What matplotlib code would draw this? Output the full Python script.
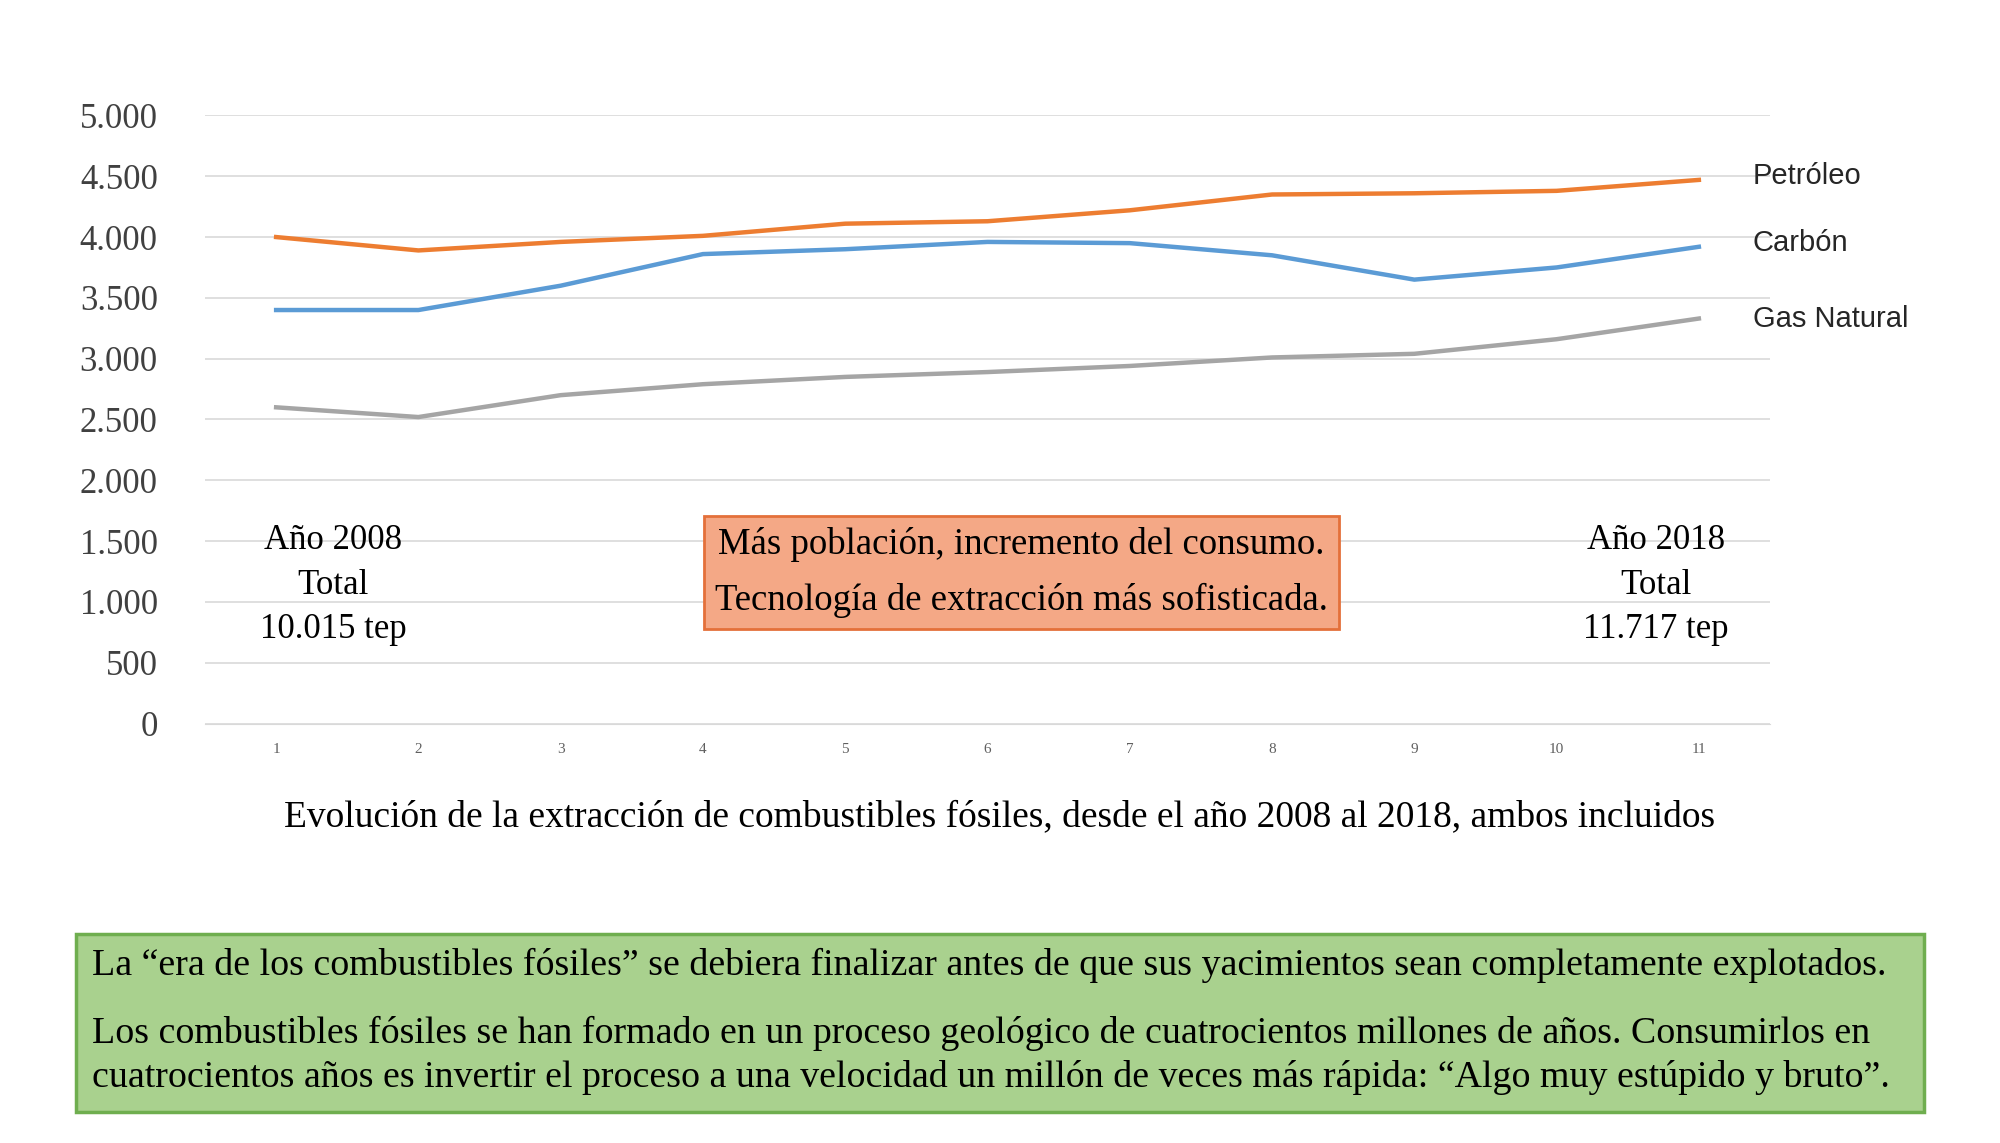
import matplotlib
matplotlib.use("Agg")
import matplotlib.pyplot as plt
from matplotlib.patches import Rectangle

x = list(range(1, 12))
petroleo = [4000, 3890, 3960, 4010, 4110, 4130, 4220, 4350, 4360, 4380, 4470]
carbon = [3400, 3400, 3600, 3860, 3900, 3960, 3950, 3850, 3650, 3750, 3920]
gas = [2600, 2520, 2700, 2790, 2850, 2890, 2940, 3010, 3040, 3160, 3330]
series = [("Petróleo", petroleo, "#ED7D31"), ("Carbón", carbon, "#5B9BD5"), ("Gas Natural", gas, "#A5A5A5")]
yticks = list(range(0, 5001, 500))
yticklabels = ["0", "500", "1.000", "1.500", "2.000", "2.500", "3.000", "3.500", "4.000", "4.500", "5.000"]

serif = "Liberation Serif"
fig = plt.figure(figsize=(20, 11.43), dpi=100)
ax = fig.add_axes([0.1025, 0.367, 0.7825, 0.532])
for name, vals, c in series:
    ax.plot(x, vals, color=c, lw=3.2)
ax.set_xlim(0.5, 11.5)
ax.set_ylim(0, 5000)
ax.set_yticks(yticks)
ax.set_yticklabels(yticklabels, fontfamily=serif, fontsize=25, color="#404040")
ax.set_xticks(x)
ax.set_xticklabels([str(i) for i in x], fontsize=11, color="#606060", fontfamily=serif)
ax.grid(axis="y", color="#D9D9D9", lw=1.2)
for s in ax.spines.values():
    s.set_visible(False)
ax.spines["bottom"].set_visible(True)
ax.spines["bottom"].set_color("#D9D9D9")
ax.tick_params(axis="y", length=0, pad=34)
ax.tick_params(axis="x", length=0, pad=14)
ax.set_axisbelow(True)

offs = [4500, 3950, 3330]
for (name, vals, c), yv in zip(series, offs):
    ax.text(11.38, yv, name, fontsize=21, fontfamily="Liberation Sans",
            color="#262626", va="center", ha="left", clip_on=False)

ax.text(1.4, 1137, "Año 2008\nTotal\n10.015 tep", ha="center", va="center", fontsize=25,
        fontfamily=serif, linespacing=1.45)
ax.text(10.7, 1137, "Año 2018\nTotal\n11.717 tep", ha="center", va="center", fontsize=25,
        fontfamily=serif, linespacing=1.45)
ax.text(6.24, 1242, "Más población, incremento del consumo.\nTecnología de extracción más sofisticada.",
        ha="center", va="center", fontsize=26.5, fontfamily=serif, linespacing=1.8,
        bbox=dict(boxstyle="square,pad=0.3", fc="#F4A886", ec="#E4703A", lw=2))

fig.text(0.5, 0.285, "Evolución de la extracción de combustibles fósiles, desde el año 2008 al 2018, ambos incluidos",
         ha="center", va="center", fontsize=27, fontfamily=serif)

fig.patches.append(Rectangle((0.038, 0.027), 0.924, 0.156, transform=fig.transFigure,
                             fc="#A9D18E", ec="#6FAE4F", lw=2.5, zorder=0))
fs = 27.3
fig.text(0.046, 0.155, "La “era de los combustibles fósiles” se debiera finalizar antes de que sus yacimientos sean completamente explotados.",
         fontsize=fs, fontfamily=serif, va="center", ha="left")
fig.text(0.046, 0.096, "Los combustibles fósiles se han formado en un proceso geológico de cuatrocientos millones de años. Consumirlos en",
         fontsize=fs, fontfamily=serif, va="center", ha="left")
fig.text(0.046, 0.057, "cuatrocientos años es invertir el proceso a una velocidad un millón de veces más rápida: “Algo muy estúpido y bruto”.",
         fontsize=fs, fontfamily=serif, va="center", ha="left")
fig.savefig("out.png", dpi=100, facecolor="white")
